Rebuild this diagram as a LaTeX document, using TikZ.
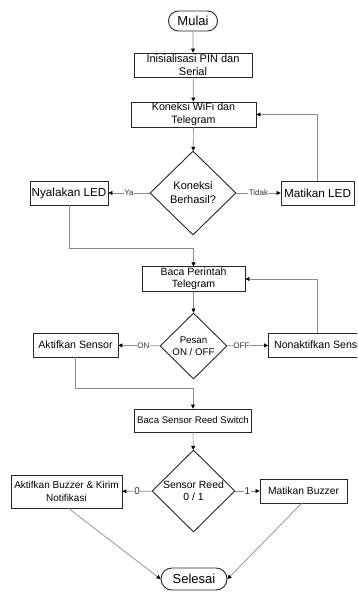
\documentclass[tikz,border=0pt]{standalone}
\usepackage{fontspec}
\setmainfont{Liberation Sans}
\usetikzlibrary{shapes.geometric,shapes.misc,arrows.meta}
\begin{document}
\begin{tikzpicture}[x=1pt,y=-1pt,
  boxst/.style={draw=black!85,line width=0.9pt,rectangle,inner sep=1pt,align=center,font=\fontsize{10.5}{12.5}\selectfont},
  termst/.style={draw=black!85,line width=0.9pt,rounded rectangle,inner sep=0pt,font=\fontsize{13}{15}\selectfont},
  decst/.style={draw=black!85,line width=0.9pt,diamond,inner sep=0pt,align=center},
  conn/.style={draw=black!45,line width=0.7pt,-{Triangle[length=4pt,width=4pt,color=black]}},
  lab/.style={fill=white,inner sep=0.5pt,font=\fontsize{8}{9}\selectfont,text=black!80}]
\useasboundingbox (0,0) rectangle (357,592);
\clip (0,0) rectangle (357,592);
\fill[white] (0,0) rectangle (357,592);

\node[termst,minimum width=49pt,minimum height=20pt] (mulai) at (193,21) {Mulai};
\node[boxst,minimum width=118pt,minimum height=24pt,font=\fontsize{11}{13}\selectfont] (init) at (193,65) {Inisialisasi PIN dan\\Serial};
\node[boxst,minimum width=125pt,minimum height=25pt,font=\fontsize{10.7}{13}\selectfont] (kon) at (193.5,114.5) {Koneksi WiFi dan\\Telegram};
\node[decst,minimum width=86pt,minimum height=84pt,font=\fontsize{11}{14}\selectfont] (dk) at (193,193) {Koneksi\\Berhasil?};
\node[boxst,minimum width=78pt,minimum height=24pt,font=\fontsize{11.7}{14}\selectfont] (nled) at (69,193) {Nyalakan LED};
\node[boxst,minimum width=73pt,minimum height=24pt,font=\fontsize{11.7}{14}\selectfont] (mled) at (317.5,193) {Matikan LED};

\node[boxst,minimum width=103pt,minimum height=24pt,font=\fontsize{10.5}{12.5}\selectfont] (baca) at (193.5,279) {Baca Perintah\\Telegram};
\node[decst,minimum width=67pt,minimum height=66pt,font=\fontsize{9.7}{12}\selectfont] (dp) at (193.5,346) {Pesan\\ON / OFF};
\node[boxst,minimum width=85pt,minimum height=24pt,font=\fontsize{10.6}{12}\selectfont] (asen) at (75.5,345) {Aktifkan Sensor};
\node[boxst,minimum width=104pt,minimum height=24pt,anchor=west,font=\fontsize{10.6}{12}\selectfont] (nsen) at (268,345) {Nonaktifkan Sensor};

\node[boxst,minimum width=117pt,minimum height=23pt,font=\fontsize{9.6}{11}\selectfont] (bsr) at (193,420.5) {Baca Sensor Reed Switch};
\node[decst,minimum width=83pt,minimum height=82pt,font=\fontsize{10.4}{12.5}\selectfont] (ds) at (193.5,491) {Sensor Reed\\0 / 1};
\node[boxst,minimum width=111pt,minimum height=33pt,font=\fontsize{10}{12.5}\selectfont] (abuz) at (66.5,491.5) {Aktifkan Buzzer \& Kirim\\Notifikasi};
\node[boxst,minimum width=87pt,minimum height=24pt,font=\fontsize{10.3}{12}\selectfont] (mbuz) at (303.5,491) {Matikan Buzzer};
\node[termst,minimum width=66pt,minimum height=22pt] (sel) at (194,579) {Selesai};

\coordinate (j1) at (69,248);
\coordinate (j2) at (75.5,388.5);
\coordinate (abo) at (68,508);
\coordinate (mbo) at (302,503);

\draw[conn] (mulai) -- (init);
\draw[conn] (init) -- (kon);
\draw[conn] (kon) -- (dk);
\draw[conn] (dk) -- node[lab]{Ya} (nled);
\draw[conn] (dk) -- node[lab]{Tidak} (mled);
\draw[conn] (mled.north) |- (kon.east);
\draw[conn] (nled.south) -- (j1) -| (baca.north);
\draw[conn] (baca) -- (dp);
\draw[conn] (dp) -- node[lab,pos=0.4]{ON} (asen);
\draw[conn] (dp) -- node[lab,pos=0.35]{OFF} (nsen);
\draw[conn] (nsen.north -| mled.north) |- (baca.east);
\draw[conn] (asen.south) -- (j2) -| (bsr.north);
\draw[conn] (bsr) -- (ds);
\draw[conn] (ds) -- node[lab,font=\fontsize{10}{11}\selectfont]{0} (abuz);
\draw[conn] (ds) -- node[lab,font=\fontsize{10}{11}\selectfont]{1} (mbuz);
\draw[conn] (abo) -- (sel.west);
\draw[conn] (mbo) -- (sel.east);
\end{tikzpicture}
\end{document}
